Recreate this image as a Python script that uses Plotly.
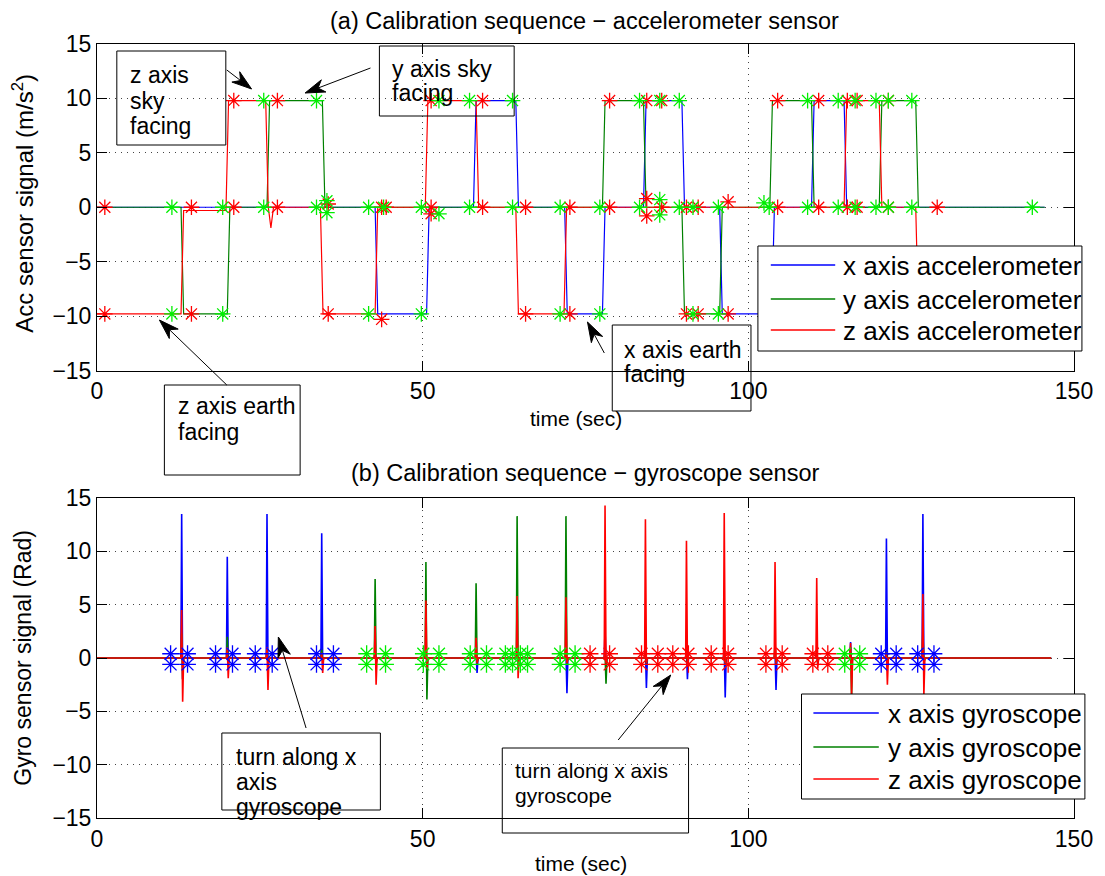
import math
import plotly.graph_objects as go

# ---------------- geometry helpers (pixel -> paper) ----------------
W, H = 1105, 876
ML, MR, MT, MB = 97, 22, 44, 58
PW = W - ML - MR
PH = H - MT - MB


def px(xp):
    return (xp - ML) / PW


def py(yp):
    return (H - MB - yp) / PH


FONT = "Liberation Sans, Arial, Helvetica, sans-serif"
BLUE, GREEN, RED = "#0000ff", "#008000", "#ff0000"
STAR_GREEN = "#00ee00"

# ---------------- data: accelerometer (level changes) ----------------
acc_x_times = [0, 42.9, 50.8, 58.0, 64.5, 72.0, 77.8, 84.1, 90.0, 95.8, 103.8, 109.9, 114.9, 145.5]
acc_x_levels = [0, -9.8, 0, 9.8, 0, -9.8, 0, 9.8, 0, -9.8, 0, 9.8, 0, 0]

acc_y_times = [0, 13.1, 20.2, 26.3, 34.8, 77.8, 84.1, 90.0, 95.8, 103.5, 109.9, 120.3, 125.9, 145.5]
acc_y_levels = [0, -9.8, 0, 9.8, 0, 9.8, 0, -9.8, 0, 9.8, 0, 9.8, 0, 0]

acc_z_times = [0, 13.1, 20.0, 26.1, 26.5, 26.9, 34.5, 42.9, 50.6, 58.4, 64.5, 71.9, 114.9, 120.3, 125.9, 145.5]
acc_z_levels = [-9.8, -0.3, 9.8, 0, -1.9, 0, -9.8, 0, 9.8, 0, -9.8, 0, 9.8, 0, -9.8, -9.8]

# star markers (stationary points) on accelerometer plot
acc_star_red_t = [1.2, 1.2, 14.5, 14.5, 21.0, 21.0, 27.7, 27.7, 35.5, 35.5, 43.7, 43.7, 44.4,
                  51.3, 51.3, 51.3, 59.2, 59.2, 65.8, 65.8, 72.6, 72.6, 78.7, 78.7,
                  84.4, 84.4, 84.4, 86.7, 86.7, 90.5, 90.5, 92.3, 92.3, 96.9, 96.9,
                  104.5, 104.5, 110.8, 110.8, 115.2, 115.2, 116.7, 116.7, 121.5, 121.5, 129.0]
acc_star_red_v = [0, -9.8, 0, -9.8, 0, 9.8, 0, 9.8, 0.3, -9.8, 0, -10.3, 0,
                  0, -0.6, 9.8, 0, 9.8, 0, -9.8, 0, -9.8, 0, 9.8,
                  0.8, -0.8, 9.8, 0, 9.8, 0, -9.8, 0, -9.8, 0.5, -9.8,
                  0, 9.8, 0, 9.8, 0, 9.8, 0, 9.8, 0, 9.8, 0]

acc_star_green_t = [11.5, 11.5, 19.3, 19.3, 25.6, 25.6, 33.7, 33.7, 35.3, 35.3, 41.7, 41.7, 44.0,
                    49.8, 49.8, 52.5, 52.5, 57.2, 57.2, 63.8, 63.8, 71.1, 71.1, 77.2, 77.2,
                    83.3, 83.3, 86.4, 86.4, 86.4, 89.4, 89.4, 91.5, 91.5, 95.4, 95.4,
                    102.4, 103.2, 109.1, 109.1, 113.8, 113.8, 116.4, 116.4, 119.6, 119.6,
                    121.5, 121.5, 125.1, 125.1, 143.6]
acc_star_green_v = [0, -9.8, 0, -9.8, 0, 9.8, 0, 9.8, 0.6, -0.5, 0, -9.8, 0,
                    0, -9.8, -0.6, 9.8, 0, 9.8, 0, 9.8, 0, -9.8, 0, -9.8,
                    0, 9.8, 0.7, -0.7, 9.8, 0, 9.8, 0, -9.8, 0, -9.8,
                    0.4, 0, 0, 9.8, 0, 9.8, 0, 9.8, 0, 9.8,
                    0, 9.8, 0, 9.8, 0]

# ---------------- data: gyroscope spikes ----------------
gyro_t = [13.0, 20.0, 26.1, 34.5, 42.7, 50.5, 58.2, 64.5, 72.0, 78.0, 84.2, 90.5,
          96.3, 104.1, 110.5, 115.7, 121.2, 126.8]
gyro_x_peak = [13.5, 9.5, 13.5, 11.7, 0.5, 0.6, 0.5, 0.5, 0.5, 2.7, 0.8, 0.5,
               0.8, 0.5, 0.5, 1.5, 11.2, 13.5]
gyro_x_trough = [-2.0, -0.5, -0.5, -0.5, -0.3, -0.5, -1.4, -0.5, -3.3, -0.5, -2.8, -2.0,
                 -3.7, -3.0, -0.5, -1.0, -0.5, -0.5]
gyro_y_peak = [2.3, 2.0, 0.8, 0.8, 7.4, 9.0, 7.0, 13.3, 13.3, 0.5, 0.5, 0.5,
               0.5, 1.5, 0.8, 1.0, 0.5, 2.5]
gyro_y_trough = [-2.0, -0.5, -0.5, -0.3, -0.5, -3.9, -0.5, -0.3, -0.5, -2.4, -0.5, -0.5,
                 -0.5, -0.5, -0.5, -3.5, -0.5, -0.5]
gyro_z_peak = [4.5, 1.0, 1.0, 0.5, 3.0, 5.4, 1.9, 5.8, 5.7, 14.3, 13.0, 11.0,
               13.6, 9.0, 7.5, 1.4, 0.5, 6.0]
gyro_z_trough = [-4.1, -1.9, -3.0, -1.4, -2.5, -1.0, -0.5, -1.9, -0.5, -0.5, -0.5, -0.8,
                 -0.5, -0.5, -1.0, -3.5, -2.5, -3.5]
gyro_end = 146.5

gyro_star_blue_t = [11.3, 13.9, 18.2, 20.8, 24.3, 26.9, 33.7, 36.3, 120.4, 122.7, 126.0, 128.5]
gyro_star_green_t = [41.4, 44.3, 50.1, 52.5, 57.3, 59.8, 62.7, 63.8, 65.0, 66.1, 71.1, 73.4, 114.8, 117.1]
gyro_star_red_t = [75.7, 78.7, 83.6, 86.1, 88.4, 90.8, 94.3, 96.9, 102.7, 105.2, 109.9, 112.2]
gyro_star_levels = [0.4, -0.6]


# ---------------- builders ----------------
def step_xy(times, levels, ramp=0.2):
    xs, ys = [times[0]], [levels[0]]
    for i in range(1, len(times) - 1):
        xs += [times[i] - ramp, times[i] + ramp]
        ys += [levels[i - 1], levels[i]]
    xs.append(times[-1])
    ys.append(levels[-1])
    return xs, ys


def spike_xy(ts, peaks, troughs, end):
    xs, ys = [0.0], [0.0]
    for t, p, q in zip(ts, peaks, troughs):
        xs += [t - 0.12, t, t + 0.15, t + 0.3]
        ys += [0.0, p, q, 0.0]
    xs.append(end)
    ys.append(0.0)
    return xs, ys


def star_xy(ts, levels):
    xs, ys = [], []
    for t in ts:
        for v in levels:
            xs.append(t)
            ys.append(v)
    return xs, ys


fig = go.Figure()


def line(xs, ys, color, ax, width=1.2):
    fig.add_trace(go.Scatter(x=xs, y=ys, mode="lines", line=dict(color=color, width=width),
                             xaxis="x" if ax == 1 else "x2", yaxis="y" if ax == 1 else "y2",
                             showlegend=False, hoverinfo="skip"))


def stars(xs, ys, color, ax, size=13):
    fig.add_trace(go.Scatter(x=xs, y=ys, mode="markers",
                             marker=dict(symbol="asterisk-open", size=size, color=color,
                                         line=dict(color=color, width=1.3)),
                             xaxis="x" if ax == 1 else "x2", yaxis="y" if ax == 1 else "y2",
                             showlegend=False, hoverinfo="skip"))


for (tt, lv, c) in [(acc_x_times, acc_x_levels, BLUE), (acc_y_times, acc_y_levels, GREEN),
                    (acc_z_times, acc_z_levels, RED)]:
    xs, ys = step_xy(tt, lv)
    line(xs, ys, c, 1)
stars(acc_star_red_t, acc_star_red_v, RED, 1)
stars(acc_star_green_t, acc_star_green_v, STAR_GREEN, 1)

for (pk, tr, c) in [(gyro_x_peak, gyro_x_trough, BLUE), (gyro_y_peak, gyro_y_trough, GREEN),
                    (gyro_z_peak, gyro_z_trough, RED)]:
    xs, ys = spike_xy(gyro_t, pk, tr, gyro_end)
    line(xs, ys, c, 2, width=1.6)
for (tt, c) in [(gyro_star_blue_t, BLUE), (gyro_star_green_t, STAR_GREEN), (gyro_star_red_t, RED)]:
    xs, ys = star_xy(tt, gyro_star_levels)
    stars(xs, ys, c, 2, size=14)

# ---------------- axes ----------------
axis_common = dict(showline=True, linecolor="black", linewidth=1, mirror="ticks",
                   ticks="inside", ticklen=10, tickcolor="black", tickwidth=1,
                   showgrid=True, gridcolor="#444444", gridwidth=1, griddash="1px,5px",
                   zeroline=False, tickfont=dict(family=FONT, size=23, color="black"))

top_dom = [py(370.5), 1.0]
bot_dom = [0.0, py(498)]

fig.update_layout(
    width=W, height=H,
    margin=dict(l=ML, r=MR, t=MT, b=MB),
    paper_bgcolor="white", plot_bgcolor="white",
    showlegend=False,
    font=dict(family=FONT, color="black"),
    xaxis=dict(range=[0, 150], tickvals=[0, 50, 100, 150], anchor="y", domain=[0, 1], **axis_common),
    yaxis=dict(range=[-15, 15], tickvals=[-15, -10, -5, 0, 5, 10, 15], anchor="x", domain=top_dom, **axis_common),
    xaxis2=dict(range=[0, 150], tickvals=[0, 50, 100, 150], anchor="y2", domain=[0, 1], **axis_common),
    yaxis2=dict(range=[-15, 15], tickvals=[-15, -10, -5, 0, 5, 10, 15], anchor="x2", domain=bot_dom, **axis_common),
)

annotations = []
shapes = []


def text(xp, yp, s, size, xanchor="left", yanchor="middle", angle=0):
    annotations.append(dict(x=px(xp), y=py(yp), xref="paper", yref="paper", text=s,
                            showarrow=False, xanchor=xanchor, yanchor=yanchor, textangle=angle,
                            font=dict(family=FONT, size=size, color="black")))


def rect(x0, y0, x1, y1, fill=None):
    shapes.append(dict(type="rect", xref="paper", yref="paper", x0=px(x0), x1=px(x1),
                       y0=py(y1), y1=py(y0), line=dict(color="black", width=1),
                       fillcolor=fill if fill else "rgba(0,0,0,0)", layer="above"))


def hline(x0, x1, yv, color):
    shapes.append(dict(type="line", xref="paper", yref="paper", x0=px(x0), x1=px(x1),
                       y0=py(yv), y1=py(yv), line=dict(color=color, width=1.5), layer="above"))


def arrow(tail, tip, L=20, Wd=13):
    tx, ty = tail
    hx, hy = tip
    dx, dy = hx - tx, hy - ty
    n = math.hypot(dx, dy)
    ux, uy = dx / n, dy / n
    vx, vy = -uy, ux
    bx, by = hx - ux * L, hy - uy * L
    nx, ny = hx - ux * L * 0.7, hy - uy * L * 0.7
    shapes.append(dict(type="line", xref="paper", yref="paper", x0=px(tx), y0=py(ty),
                       x1=px(nx), y1=py(ny), line=dict(color="black", width=1), layer="above"))
    pts = [(hx, hy), (bx + vx * Wd / 2, by + vy * Wd / 2), (nx, ny), (bx - vx * Wd / 2, by - vy * Wd / 2)]
    path = "M " + " L ".join(f"{px(a):.5f},{py(b):.5f}" for a, b in pts) + " Z"
    shapes.append(dict(type="path", xref="paper", yref="paper", path=path,
                       fillcolor="black", line=dict(color="black", width=1), layer="above"))


# titles and axis labels
text(589, 21, "(a) Calibration sequence − accelerometer sensor", 23.5, xanchor="center")
text(589, 473, "(b) Calibration sequence − gyroscope sensor", 23.5, xanchor="center")
text(22, 203, "Acc sensor signal (m/s<sup>2</sup>)", 24, xanchor="center", angle=-90)
text(22, 658, "Gyro sensor signal (Rad)", 23, xanchor="center", angle=-90)
text(580, 418, "time (sec)", 21, xanchor="center")
text(585, 863, "time (sec)", 21, xanchor="center")

# annotation boxes (transparent)
rect(117, 51, 227, 145)
text(128, 75, "z axis", 23)
text(128, 101, "sky", 23)
text(128, 126, "facing", 23)
arrow((228, 70), (253, 89))

rect(382, 46, 518, 116)
text(393, 69, "y axis sky", 23)
text(393, 93, "facing", 23)
arrow((373, 68), (307, 93))

rect(165, 385, 302, 475)
text(177, 406, "z axis earth", 23)
text(177, 432, "facing", 23)
arrow((228, 385), (160, 320))

rect(617, 325, 757, 411)
text(627, 350, "x axis earth", 23)
text(627, 374, "facing", 23)
arrow((609, 353), (592, 322))

rect(223, 733, 383, 810)
text(235, 757, "turn along x", 23)
text(235, 782, "axis", 23)
text(235, 807, "gyroscope", 23)
arrow((308, 728), (280, 637))

rect(506, 748, 694, 833)
text(517, 770, "turn along x axis", 21)
text(517, 795, "gyroscope", 21)
arrow((623, 740), (676, 675))

# custom legends (opaque)
rect(764, 246, 1091, 351, fill="white")
for yv, c, s in [(265, BLUE, "x axis accelerometer"), (299, GREEN, "y axis accelerometer"),
                 (330, RED, "z axis accelerometer")]:
    hline(777, 842, yv, c)
    text(848, yv + 1, s, 26)

rect(808, 694, 1094, 799, fill="white")
for yv, c, s in [(713, BLUE, "x axis gyroscope"), (747, GREEN, "y axis gyroscope"),
                 (779, RED, "z axis gyroscope")]:
    hline(820, 886, yv, c)
    text(893, yv + 1, s, 26)

fig.update_layout(annotations=annotations, shapes=shapes)
fig.write_html("out.html")
